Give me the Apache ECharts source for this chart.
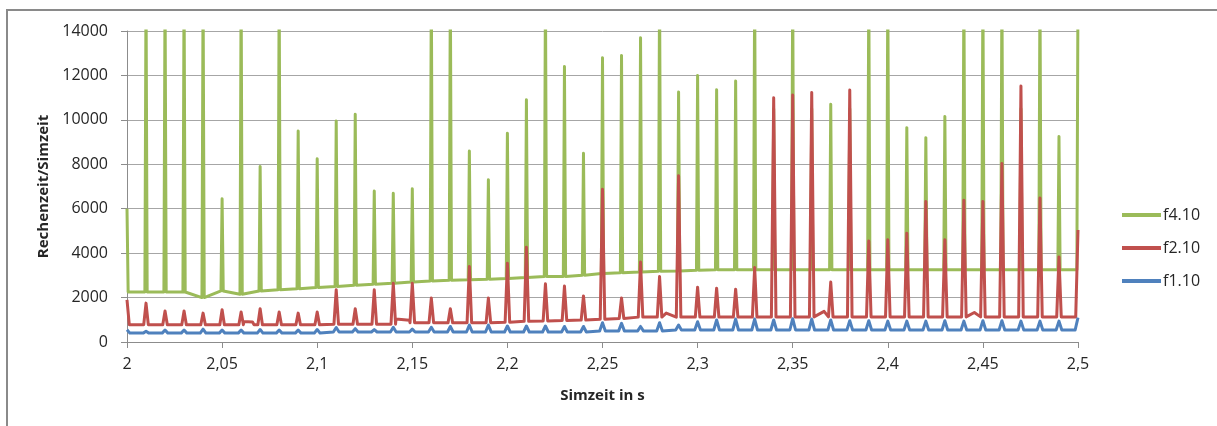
<!DOCTYPE html>
<html>
<head>
<meta charset="utf-8">
<script src="https://cdn.jsdelivr.net/npm/echarts@6/dist/echarts.min.js"></script>
<style>
  html, body { margin: 0; padding: 0; background: #ffffff; }
  #chart { width: 1217px; height: 426px; }
</style>
</head>
<body>
<div id="chart"></div>
<script>
// Spike instants along the simulation time axis (s)
const spikeTimes = [
  2.00, 2.01, 2.02, 2.03, 2.04, 2.05, 2.06, 2.07, 2.08, 2.09,
  2.10, 2.11, 2.12, 2.13, 2.14, 2.15, 2.16, 2.17, 2.18, 2.19,
  2.20, 2.21, 2.22, 2.23, 2.24, 2.25, 2.26, 2.27, 2.28, 2.29,
  2.30, 2.31, 2.32, 2.33, 2.34, 2.35, 2.36, 2.37, 2.38, 2.39,
  2.40, 2.41, 2.42, 2.43, 2.44, 2.45, 2.46, 2.47, 2.48, 2.49,
  2.50
];

// f4.10: peak value at each spike and the level between spikes
const f410Peaks = [
  6000, 16000, 16000, 16000, 16000, 6450, 16000, 7900, 16000, 9500,
  8250, 9950, 10250, 6800, 6700, 6900, 16000, 16000, 8600, 7300,
  9400, 10900, 16000, 12400, 8500, 12800, 12900, 13700, 16000, 11250,
  12000, 11350, 11750, 16000, 10500, 16000, 10500, 10700, 10500, 16000,
  16000, 9650, 9200, 10150, 16000, 16000, 16000, 10500, 16000, 9250,
  16000
];
const f410Base = [
  2250, 2250, 2250, 2250, 2000, 2300, 2150, 2300, 2350, 2400,
  2450, 2500, 2550, 2600, 2650, 2700, 2750, 2780, 2800, 2830,
  2860, 2900, 2950, 2950, 3000, 3080, 3120, 3150, 3180, 3200,
  3230, 3250, 3250, 3250, 3250, 3250, 3250, 3250, 3250, 3250,
  3250, 3250, 3250, 3250, 3250, 3250, 3250, 3250, 3250, 3250,
  3250
];

// f2.10
const f210Peaks = [
  1900, 1750, 1400, 1400, 1300, 1450, 1350, 1500, 1350, 1300,
  1350, 2350, 1500, 2350, 2650, 2650, 1980, 1500, 3400, 1980,
  3550, 4270, 2620, 2520, 2070, 6880, 1980, 3600, 2950, 7480,
  2470, 2420, 2380, 3350, 11000, 11120, 11230, 2700, 11340, 4550,
  4600, 4900, 6320, 4600, 6380, 6320, 8030, 11520, 6480, 3830,
  5040
];
const f210Base = [
  780, 780, 780, 780, 780, 780, 780, 780, 780, 780,
  780, 800, 800, 800, 800, 870, 870, 870, 870, 870,
  890, 930, 950, 970, 990, 1020, 1060, 1120, 1120, 1120,
  1120, 1120, 1120, 1120, 1130, 1130, 1130, 1130, 1130, 1130,
  1130, 1130, 1130, 1130, 1130, 1130, 1130, 1130, 1130, 1130,
  1130
];
// short f2.10 shelves and humps between spikes: [time, value]
const f210Humps = [
  [2.0614, 920], [2.0660, 900], [2.0668, 780],
  [2.1414, 1030], [2.1485, 980],
  [2.2835, 1300], [2.3665, 1380], [2.4455, 1330]
];

// f1.10
const f110Peaks = [
  550, 480, 540, 540, 580, 540, 540, 560, 540, 540,
  560, 650, 600, 560, 660, 580, 660, 700, 760, 760,
  720, 720, 720, 700, 700, 870, 840, 700, 870, 760,
  910, 990, 1030, 1030, 990, 1050, 1030, 990, 960, 960,
  940, 940, 940, 960, 940, 960, 960, 940, 940, 940,
  1100
];
const f110Base = [
  400, 400, 400, 400, 400, 400, 400, 400, 400, 400,
  400, 450, 450, 450, 450, 450, 450, 450, 450, 450,
  450, 450, 450, 450, 450, 500, 500, 500, 500, 540,
  540, 540, 540, 540, 540, 540, 540, 540, 540, 540,
  540, 540, 540, 540, 540, 540, 540, 540, 540, 540,
  540
];

// Axis ticks
const yTicks = [0, 2000, 4000, 6000, 8000, 10000, 12000, 14000];
const xTicks = [2, 2.05, 2.1, 2.15, 2.2, 2.25, 2.3, 2.35, 2.4, 2.45, 2.5];

// Turns peak/level lists into a polyline: each spike rises from the
// local level to its peak and falls back within a half-width w.
function spikeLine(peaks, levels, w, extra) {
  const pts = [];
  const n = spikeTimes.length;
  spikeTimes.forEach((t, i) => {
    if (i > 0) pts.push([+(t - w).toFixed(5), levels[i]]);
    pts.push([t, peaks[i]]);
    if (i < n - 1) pts.push([+(t + w).toFixed(5), levels[i]]);
  });
  (extra || []).forEach(p => pts.push(p));
  pts.sort((a, b) => a[0] - b[0]);
  return pts;
}

const font = '"Open Sans", "Liberation Sans", sans-serif';
const textColor = '#262626';

const chart = echarts.init(document.getElementById('chart'), null, { renderer: 'canvas' });

chart.setOption({
  animation: false,
  backgroundColor: '#ffffff',
  textStyle: { fontFamily: font },
  graphic: [{
    type: 'rect',
    shape: { x: 7, y: 10, width: 1400, height: 600 },
    style: { fill: 'none', stroke: '#8a8a8a', lineWidth: 2 },
    silent: true,
    z: -1
  }],
  grid: { left: 127, right: 139, top: 31, bottom: 84 },
  legend: {
    orient: 'vertical',
    left: 1117,
    top: 202,
    itemWidth: 39,
    itemHeight: 4,
    itemGap: 17,
    icon: 'rect',
    data: ['f4.10', 'f2.10', 'f1.10'],
    textStyle: { fontFamily: font, fontSize: 16, color: textColor, padding: [0, 0, 0, -3] }
  },
  xAxis: {
    type: 'value',
    min: 2,
    max: 2.5,
    interval: 0.05,
    name: 'Simzeit in s',
    nameLocation: 'middle',
    nameGap: 46,
    nameTextStyle: { fontFamily: font, fontSize: 15, fontWeight: 'bold', color: textColor },
    axisLine: { show: true, onZero: false, lineStyle: { color: '#8c8c8c', width: 1 } },
    axisTick: { show: true, length: 6, inside: false, lineStyle: { color: '#8c8c8c' } },
    splitLine: { show: false },
    axisLabel: {
      margin: 14,
      fontFamily: font,
      fontSize: 16,
      color: textColor,
      showMinLabel: true,
      showMaxLabel: true,
      formatter: v => {
        const hit = xTicks.find(x => Math.abs(x - v) < 1e-6);
        return hit === undefined ? '' : String(hit).replace('.', ',');
      }
    }
  },
  yAxis: {
    type: 'value',
    min: 0,
    max: 14000,
    interval: 2000,
    name: 'Rechenzeit/Simzeit',
    nameLocation: 'middle',
    nameGap: 73,
    nameTextStyle: { fontFamily: font, fontSize: 15, fontWeight: 'bold', color: textColor },
    axisLine: { show: true, lineStyle: { color: '#8c8c8c', width: 1 } },
    axisTick: { show: true, length: 6, inside: false, lineStyle: { color: '#8c8c8c' } },
    splitLine: { show: true, lineStyle: { color: '#a6a6a6', width: 1 } },
    axisLabel: {
      margin: 19,
      fontFamily: font,
      fontSize: 16,
      color: textColor,
      formatter: v => (yTicks.includes(v) ? String(v) : '')
    }
  },
  series: [
    {
      name: 'f4.10',
      type: 'line',
      data: spikeLine(f410Peaks, f410Base, 0.0006),
      showSymbol: false,
      symbol: 'none',
      clip: true,
      color: '#9BBB59',
      lineStyle: { color: '#9BBB59', width: 3, join: 'round' }
    },
    {
      name: 'f2.10',
      type: 'line',
      data: spikeLine(f210Peaks, f210Base, 0.0012, f210Humps),
      showSymbol: false,
      symbol: 'none',
      clip: true,
      color: '#C0504D',
      lineStyle: { color: '#C0504D', width: 3, join: 'round' }
    },
    {
      name: 'f1.10',
      type: 'line',
      data: spikeLine(f110Peaks, f110Base, 0.0015),
      showSymbol: false,
      symbol: 'none',
      clip: true,
      color: '#4F81BD',
      lineStyle: { color: '#4F81BD', width: 3, join: 'round' }
    }
  ]
});
</script>
</body>
</html>
